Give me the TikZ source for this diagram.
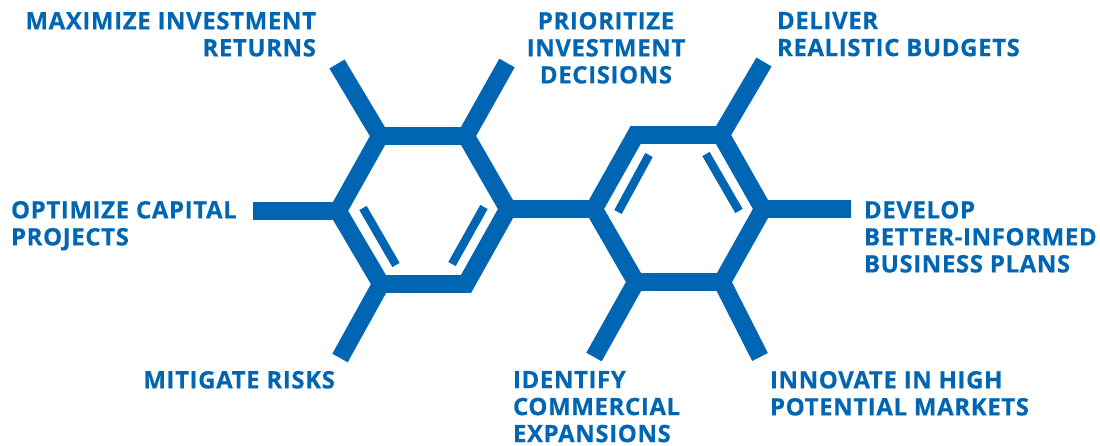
\documentclass[tikz,border=0pt]{standalone}
\usepackage{fontspec}
\setmainfont[LetterSpace=2.5,FakeBold=0.4]{Open Sans}
\definecolor{molblue}{HTML}{0066B3}
\tikzset{
  x=1pt,y=-1pt,
  ring/.style={draw=molblue,line width=17.6pt,miter limit=10,line join=miter},
  stub/.style={draw=molblue,line width=17.6pt,line cap=butt},
  inner/.style={draw=molblue,line width=8.4pt,line cap=butt},
  lab/.style={text=molblue,font=\fontsize{24}{27}\selectfont\bfseries,inner sep=0pt,outer sep=0pt},
}
\begin{document}
\begin{tikzpicture}
\useasboundingbox (0,0) rectangle (1100,445);
% left ring
\coordinate (a1) at (380,136);
\coordinate (a2) at (466,136);
\coordinate (a3) at (508,209);
\coordinate (a4) at (466,284);
\coordinate (a5) at (381,284);
\coordinate (a6) at (338,211);
% right ring
\coordinate (b1) at (635.6,135);
\coordinate (b2) at (721,135);
\coordinate (b3) at (763,209);
\coordinate (b4) at (722,282);
\coordinate (b5) at (636,282);
\coordinate (b6) at (594,209);
% free ends
\coordinate (s1) at (337,64);
\coordinate (s2) at (507,63);
\coordinate (s3) at (253,211);
\coordinate (s4) at (340,358);
\coordinate (s5) at (764,62);
\coordinate (s6) at (851,209);
\coordinate (s7) at (760,357);
\coordinate (s8) at (594,357);
% inner bonds
\coordinate (i1) at (363,208);
\coordinate (i2) at (396,265);
\coordinate (i3) at (484,207);
\coordinate (i4) at (452,264);
\coordinate (i5) at (649,155);
\coordinate (i6) at (618,212);
\coordinate (i7) at (706,154);
\coordinate (i8) at (739,211);

\draw[stub] (a1) -- (s1);
\draw[stub] (a2) -- (s2);
\draw[stub] (a6) -- (s3);
\draw[stub] (a5) -- (s4);
\draw[stub] (b2) -- (s5);
\draw[stub] (b3) -- (s6);
\draw[stub] (b4) -- (s7);
\draw[stub] (b5) -- (s8);
\draw[stub] (a3) -- (b6);
\draw[ring] (a1) -- (a2) -- (a3) -- (a4) -- (a5) -- (a6) -- cycle;
\draw[ring] (b1) -- (b2) -- (b3) -- (b4) -- (b5) -- (b6) -- cycle;
\draw[inner] (i1) -- (i2);
\draw[inner] (i3) -- (i4);
\draw[inner] (i5) -- (i6);
\draw[inner] (i7) -- (i8);

\node[lab,anchor=north east,align=right] (t1) at (316,12) {MAXIMIZE INVESTMENT\\RETURNS};
\node[lab,anchor=north,align=center] (t2) at (606,12) {PRIORITIZE\\INVESTMENT\\DECISIONS};
\node[lab,anchor=north west,align=left] (t3) at (777,12) {DELIVER\\REALISTIC BUDGETS};
\node[lab,anchor=north west,align=left] (t4) at (11,201) {OPTIMIZE CAPITAL\\PROJECTS};
\node[lab,anchor=north west,align=left] (t5) at (864,201) {DEVELOP\\BETTER-INFORMED\\BUSINESS PLANS};
\node[lab,anchor=north east,align=right] (t6) at (335,371) {MITIGATE RISKS};
\node[lab,anchor=north west,align=left] (t7) at (513,371) {IDENTIFY\\COMMERCIAL\\EXPANSIONS};
\node[lab,anchor=north west,align=left] (t8) at (770,371) {INNOVATE IN HIGH\\POTENTIAL MARKETS};
\end{tikzpicture}
\end{document}
